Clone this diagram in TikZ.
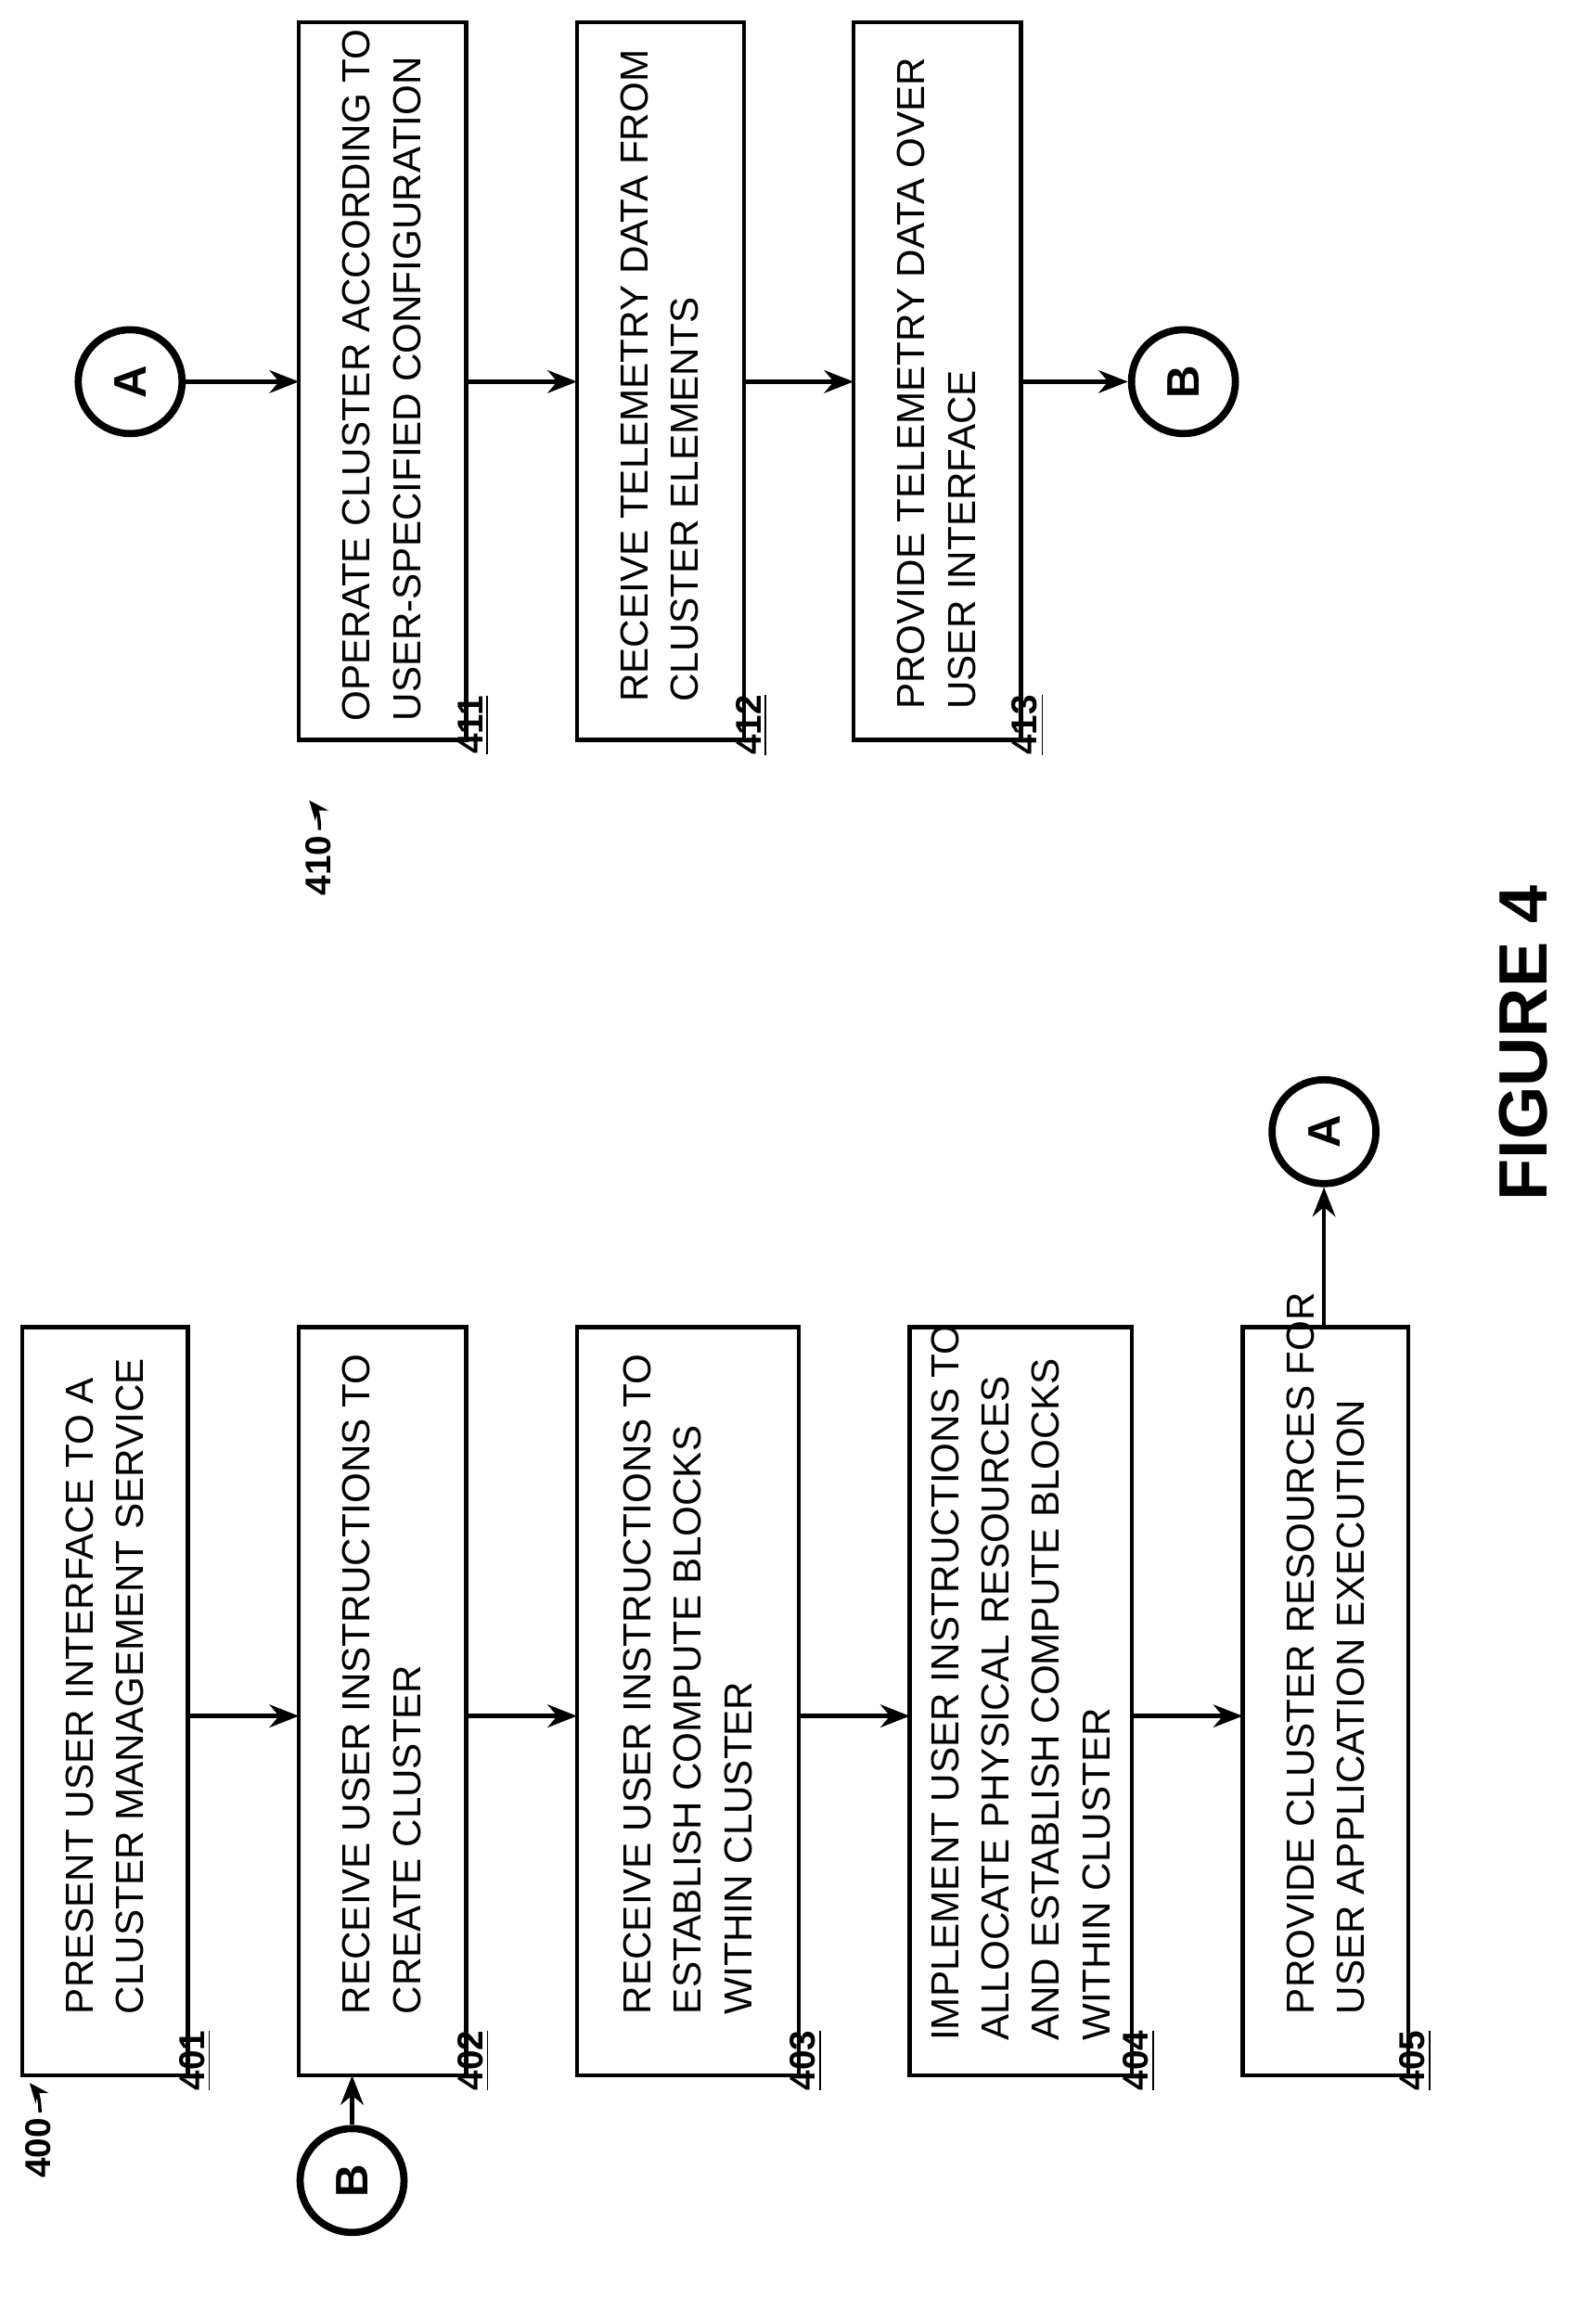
\documentclass[tikz,border=0pt]{standalone}
\usepackage{fontspec}
\setmainfont{Liberation Sans}
\usetikzlibrary{arrows.meta}
\tikzset{
  stepbox/.style={draw, line width=1.3pt},
  steptext/.style={rotate=90, anchor=west, align=left, font=\fontsize{12}{15.5}\selectfont, inner sep=0pt},
  reflbl/.style={rotate=90, font=\bfseries\fontsize{11}{13}\selectfont, inner sep=0pt},
  conn/.style={draw, circle, line width=2.2pt, minimum size=1.12cm, inner sep=0pt, font=\bfseries\fontsize{14}{16}\selectfont},
  flow/.style={line width=1.3pt, -{Stealth[length=9pt,width=7pt]}}
}
\begin{document}
\begin{tikzpicture}[x=0.01594cm, y=-0.01594cm]
\useasboundingbox (0,0) rectangle (1067,1571);
{
% left column
\draw[stepbox] (15,897) rectangle (127,1403);
\draw[stepbox] (202,897) rectangle (315,1403);
\draw[stepbox] (390,897) rectangle (540,1403);
\draw[stepbox] (615,897) rectangle (765,1403);
\draw[stepbox] (840,897) rectangle (952,1403);
\node[steptext] (t401) at (71,1362) {PRESENT USER INTERFACE TO A\\CLUSTER MANAGEMENT SERVICE};
\node[steptext] (t402) at (258,1362) {RECEIVE USER INSTRUCTIONS TO\\CREATE CLUSTER};
\node[steptext] (t403) at (465,1362) {RECEIVE USER INSTRUCTIONS TO\\ESTABLISH COMPUTE BLOCKS\\WITHIN CLUSTER};
\node[steptext] (t404) at (690,1380) {IMPLEMENT USER INSTRUCTIONS TO\\ALLOCATE PHYSICAL RESOURCES\\AND ESTABLISH COMPUTE BLOCKS\\WITHIN CLUSTER};
\node[steptext] (t405) at (896,1362) {PROVIDE CLUSTER RESOURCES FOR\\USER APPLICATION EXECUTION};
\node[reflbl] at (132,1393) {\underline{401}};
\node[reflbl] at (320,1393) {\underline{402}};
\node[reflbl] at (545,1393) {\underline{403}};
\node[reflbl] at (770,1393) {\underline{404}};
\node[reflbl] at (957,1393) {\underline{405}};
\coordinate (c401) at (127,1160); \coordinate (c402a) at (202,1160);
\coordinate (c402) at (315,1160); \coordinate (c403a) at (390,1160);
\coordinate (c403) at (540,1160); \coordinate (c404a) at (615,1160);
\coordinate (c404) at (765,1160); \coordinate (c405a) at (840,1160);
\draw[flow] (c401) -- (c402a);
\draw[flow] (c402) -- (c403a);
\draw[flow] (c403) -- (c404a);
\draw[flow] (c404) -- (c405a);
\node[conn] (bl) at (238,1474) {\rotatebox{90}{B}};
\coordinate (in402) at (238,1403);
\draw[flow] (bl) -- (in402);
\node[conn] (al) at (895,765) {\rotatebox{90}{A}};
\coordinate (out405) at (895,897);
\draw[flow] (out405) -- (al);
\node[reflbl] (n400) at (26,1452) {400};
\draw[line width=1pt, -{Stealth[length=6pt,width=5pt]}] (27,1428) to[bend right=20] (20,1408);
% right column
\draw[stepbox] (202,15) rectangle (315,500);
\draw[stepbox] (390,15) rectangle (503,500);
\draw[stepbox] (577,15) rectangle (690,500);
\node[steptext] (t411) at (258,488) {OPERATE CLUSTER ACCORDING TO\\USER-SPECIFIED CONFIGURATION};
\node[steptext] (t412) at (446,475) {RECEIVE TELEMETRY DATA FROM\\CLUSTER ELEMENTS};
\node[steptext] (t413) at (633,480) {PROVIDE TELEMETRY DATA OVER\\USER INTERFACE};
\node[reflbl] at (320,490) {\underline{411}};
\node[reflbl] at (508,490) {\underline{412}};
\node[reflbl] at (695,490) {\underline{413}};
\node[conn] (ar) at (88,258) {\rotatebox{90}{A}};
\node[conn] (br) at (800,258) {\rotatebox{90}{B}};
\coordinate (in411) at (202,258); \coordinate (out411) at (315,258);
\coordinate (in412) at (390,258); \coordinate (out412) at (503,258);
\coordinate (in413) at (577,258); \coordinate (out413) at (690,258);
\draw[flow] (ar) -- (in411);
\draw[flow] (out411) -- (in412);
\draw[flow] (out412) -- (in413);
\draw[flow] (out413) -- (br);
\node[reflbl] (n410) at (215,585) {410};
\draw[line width=1pt, -{Stealth[length=6pt,width=5pt]}] (216,561) to[bend right=20] (209,541);
% title
\node[rotate=90, font=\bfseries\fontsize{21}{24}\selectfont] (fig) at (1030,705) {FIGURE 4};
}
\end{tikzpicture}
\end{document}
